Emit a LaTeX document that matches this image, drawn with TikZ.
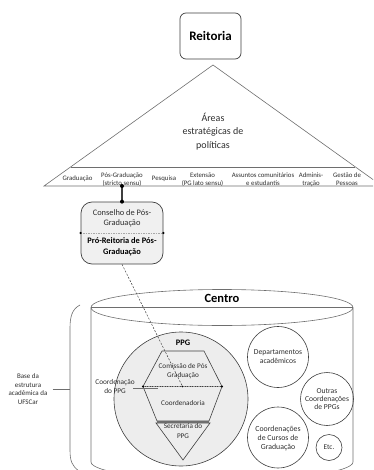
\documentclass[tikz,border=0pt]{standalone}
\usepackage{fontspec}
\setmainfont{Carlito}
\usetikzlibrary{calc}

\definecolor{edgedark}{HTML}{3F3F3F}
\definecolor{linegray}{HTML}{6E6E6E}
\definecolor{txt}{HTML}{2E2E2E}
\definecolor{panel}{HTML}{F0F0F0}
\definecolor{ppgfill}{HTML}{EDEDED}

\newcommand{\setfs}[2]{\fontsize{#1}{#2}\selectfont}

\tikzset{
  lbl/.style={inner sep=0pt, align=center, text=txt},
  title/.style={inner sep=0pt, align=center, text=black, font=\bfseries},
  ring/.style={draw=edgedark, line width=0.6pt, circle, inner sep=0pt},
  outline/.style={draw=linegray, line width=0.6pt},
  dot/.style={fill=black, draw=none},
}

\begin{document}
\begin{tikzpicture}[x=1pt, y=-1pt]
\useasboundingbox (0,0) rectangle (373,470);
\clip (0,0) rectangle (373,470);

% ---------- Reitoria ----------
\node[draw=edgedark, line width=0.7pt, rounded corners=6pt,
      minimum width=61pt, minimum height=46pt, inner sep=0pt,
      font=\bfseries\setfs{13}{15}] (reitoria) at (210.5,36) {Reitoria};

% ---------- triangle of strategic areas ----------
\coordinate (apex) at (213,65);
\coordinate (bl) at (44,186);
\coordinate (br) at (382,186);
\draw[outline] (bl) -- (apex) -- (br) -- cycle;
\coordinate (bandl) at ($(apex)!{102/121}!(bl)$);
\coordinate (bandr) at ($(apex)!{102/121}!(br)$);
\draw[outline] (bandl) -- (bandr);

\node[lbl, font=\setfs{10}{13.2}] (areas) at (213,131.5)
  {Áreas\\estratégicas de\\políticas};

\begin{scope}[every node/.style={lbl, font=\setfs{6.8}{7.7}}]
  \node (grad)  at (77.5,178.5) {Graduação};
  \node (posg)  at (122,179.5)  {Pós-Graduação\\(stricto sensu)};
  \node (pesq)  at (164,178.5)  {Pesquisa};
  \node (ext)   at (202.5,179.5){Extensão\\(PG lato sensu)};
  \node (assun) at (263,179.5)  {Assuntos comunitários\\e estudantis};
  \node (admin) at (311,179.5)  {Adminis-\\tração};
  \node (gest)  at (347,179.5)  {Gestão de\\Pessoas};
\end{scope}

% ---------- Conselho / Pró-Reitoria ----------
\node[draw=edgedark, line width=0.7pt, fill=panel, rounded corners=11pt,
      minimum width=82pt, minimum height=62pt, inner sep=0pt] (conselho) at (122,233) {};
\node[lbl, font=\setfs{8.4}{10.2}] (cons) at (122,218) {Conselho de Pós-\\Graduação};
\node[title, font=\bfseries\setfs{8.4}{11}] (prorei) at (122,246.5) {Pró-Reitoria de Pós-\\Graduação};
\draw[linegray!60, line width=0.5pt, dash pattern=on 1.5pt off 1pt]
  (conselho.west) -- (conselho.east);
\fill[dot] (conselho.west) circle (1.2pt) (conselho.east) circle (1.2pt);

\coordinate (pgbase) at (122,186);
\draw[edgedark, line width=1.3pt] (pgbase) -- (conselho.north);
\fill[dot] (pgbase) circle (2pt) (conselho.north) circle (2pt);

% ---------- Centro cylinder ----------
\draw[outline] (222,307.5) ellipse [x radius=131pt, y radius=18pt];
\draw[outline] (91,307.5) -- (353,307.5);
\draw[outline] (91,307.5) -- (91,462)
  arc[start angle=180, end angle=360, x radius=131pt, y radius=18pt] -- (353,307.5);
\node[title, font=\bfseries\setfs{12.5}{14}] (centro) at (222,298) {Centro};

% ---------- brace and base label ----------
\draw[outline] (80,305) .. controls (72,309) and (70,317) .. (70,328)
  -- (70,450) .. controls (70,461) and (72,466) .. (79,471);
\coordinate (bracemid) at (70,389);
\node[lbl, font=\setfs{7}{8.7}] (base) at (28,389) {Base da\\estrutura\\acadêmica da\\UFSCar};
\draw[outline] ($(base.east)+(5,0)$) -- (bracemid);

% ---------- PPG ----------
\node[ring, fill=ppgfill, minimum size=134pt] (ppg) at (181,399) {};
\node[title, font=\bfseries\setfs{8.4}{10}] (ppgt) at (183,342.5) {PPG};

\coordinate (hexc) at (182.5,386.5);
\draw[draw=edgedark, line width=0.6pt, fill=ppgfill]
  (162,351) -- (204,351) -- (222,386.5) -- (143,386.5) -- cycle;
\draw[draw=edgedark, line width=0.6pt, fill=ppgfill]
  (143,386.5) -- (222,386.5) -- (209,421) -- (157,421) -- cycle;
\draw[draw=edgedark, line width=0.6pt, fill=ppgfill]
  (156,423) -- (210,423) -- (183,460) -- cycle;
\fill[linegray] (157,420.5) rectangle (209,423);

\draw[linegray!70, line width=0.5pt, dash pattern=on 1.5pt off 1pt]
  (143,386.5) -- (222,386.5);
\fill[dot] (143,386.5) circle (1.2pt) (222,386.5) circle (1.2pt);

\node[lbl, font=\setfs{7.2}{9.2}] (comis) at (183,371.5) {Comissão de Pós\\Graduação};
\node[lbl, font=\setfs{7.2}{9}] (coordn) at (183,403) {Coordenadoria};
\node[lbl, font=\setfs{7.2}{9.3}] (secr) at (183,431) {Secretaria do\\PPG};

\node[lbl, font=\setfs{7.3}{9}] (coordppg) at (115,386.5) {Coordenação\\do PPG};
\coordinate (coordtick) at (158,388);
\draw[linegray, line width=0.9pt] (133,388) -- (coordtick);

% dashed link from the Pró-Reitoria to the PPG coordination
\draw[edgedark, line width=0.5pt, dash pattern=on 2pt off 1.5pt] (conselho.south) -- (hexc);
\fill[dot] (hexc) circle (0.8pt);

% ---------- other units of the Centro ----------
\node[ring, minimum size=61pt] (dept) at (278,357) {};
\node[lbl, font=\setfs{7.6}{9}] at (dept.center) {Departamentos\\acadêmicos};
\node[ring, minimum size=53pt] (outras) at (327,399) {};
\node[lbl, font=\setfs{7.6}{8}] at (outras.center) {Outras\\Coordenações\\de PPGs};
\node[ring, minimum size=61pt] (cursos) at (278,437.5) {};
\node[lbl, font=\setfs{7.8}{8.6}] at ([yshift=-1pt]cursos.center) {Coordenações\\de Cursos de\\Graduação};
\node[ring, minimum size=26pt] (etc) at (329,447.5) {};
\node[lbl, font=\setfs{7.3}{9}] at (etc.center) {Etc.};

\end{tikzpicture}
\end{document}
